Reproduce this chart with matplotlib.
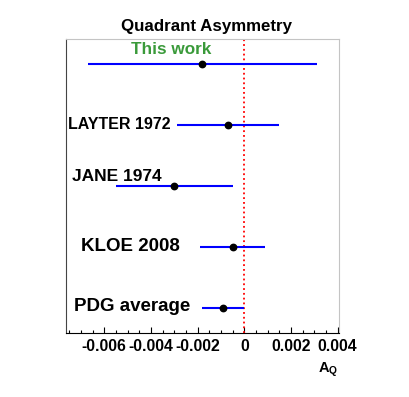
import numpy as np
import matplotlib
matplotlib.use('Agg')
import matplotlib.pyplot as plt
from matplotlib.ticker import MultipleLocator, FuncFormatter

plt.rcParams['font.family'] = ['Liberation Sans', 'DejaVu Sans']
plt.rcParams['font.weight'] = 'bold'
plt.rcParams['mathtext.fontset'] = 'custom'
plt.rcParams['mathtext.bf'] = 'Liberation Sans:bold'
plt.rcParams['mathtext.rm'] = 'Liberation Sans:bold'

# measurements of the quadrant asymmetry
labels = ['This work', 'LAYTER 1972', 'JANE 1974', 'KLOE 2008', 'PDG average']
values = [-0.0018, -0.0007, -0.0030, -0.0005, -0.0009]
errors = [0.0049, 0.0022, 0.0025, 0.0014, 0.0009]
ypos = [5, 4, 3, 2, 1]

# where each label sits (data coords) and its look
label_x = [-0.00315, -0.00537, -0.00545, -0.00487, -0.00479]
label_y = [5.24, 4.0, 3.15, 2.01, 1.03]
label_size = [12.3, 11.5, 12.5, 13.5, 13.5]
label_color = ['#3a9a3a', 'black', 'black', 'black', 'black']

fig = plt.figure(figsize=(4.09, 3.97), dpi=100)
ax = fig.add_axes([0.1606, 0.162, 0.669, 0.739])

ax.errorbar(values, ypos, xerr=errors, fmt='o', color='black', markersize=4.6,
            ecolor='blue', elinewidth=1.5, capsize=0, zorder=3)
ax.axvline(0, color='red', linestyle=':', linewidth=1.3, zorder=2)

for t, x, y, s, c in zip(labels, label_x, label_y, label_size, label_color):
    ax.text(x, y, t, ha='center', va='center', fontsize=s, color=c, fontweight='bold')

ax.set_xlim(-0.00765, 0.00407)
ax.set_ylim(0.6, 5.4)
ax.set_yticks([])

ax.xaxis.set_major_locator(MultipleLocator(0.002))
ax.xaxis.set_minor_locator(MultipleLocator(0.0005))
ax.xaxis.set_major_formatter(FuncFormatter(lambda v, p: '%g' % round(v, 6)))
ax.tick_params(axis='x', which='major', direction='in', length=4.3, width=0.8,
               labelsize=11.3, pad=4.5)
ax.tick_params(axis='x', which='minor', direction='in', length=2.2, width=0.8)

ax.spines['left'].set_color('#444444')
ax.spines['top'].set_color('#c4c4c4')
ax.spines['right'].set_color('#c4c4c4')
ax.spines['bottom'].set_color('black')

ax.text(0.995, -0.125, r'$\mathbf{A_{Q}}$', transform=ax.transAxes,
        ha='right', va='center', fontsize=10.5)

fig.text(0.506, 1 - 27 / 397, 'Quadrant Asymmetry', ha='center', va='center',
         fontsize=12.2, fontweight='bold')

fig.savefig('out.png', dpi=100)
